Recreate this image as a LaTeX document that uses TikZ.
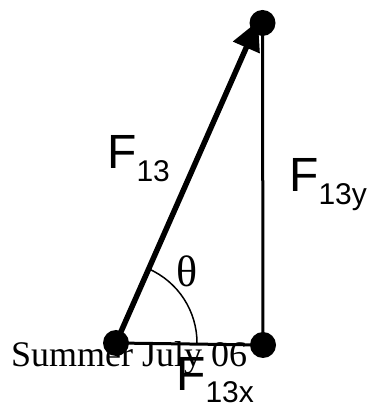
\documentclass[tikz,border=0pt]{standalone}
\usepackage{fontspec}
\setmainfont{Liberation Serif}
\newfontfamily\arialfont{Liberation Sans}
\usetikzlibrary{arrows.meta}
\tikzset{
  dot/.style={circle, fill=black, inner sep=0pt, minimum size=26pt},
  side/.style={line width=3pt},
  force/.style={line width=5.5pt, -{Triangle[length=29pt,width=28pt]}},
  anglearc/.style={line width=1.5pt},
  flabel/.style={anchor=base west, inner sep=0pt, font=\arialfont\fontsize{48}{48}\selectfont},
  serifbig/.style={anchor=base west, inner sep=0pt, font=\fontsize{44}{44}\selectfont},
  serifnote/.style={anchor=base west, inner sep=0pt, font=\fontsize{36}{36}\selectfont}
}
\newcommand{\fsub}[2]{\raisebox{-#1pt}{\fontsize{30}{30}\selectfont #2}}
\begin{document}
\begin{tikzpicture}[x=1pt,y=1pt]
\useasboundingbox (0,0) rectangle (373,406);
\node[dot] (A) at (116,63) {};
\node[dot] (B) at (263,61) {};
\node[dot] (C) at (262.5,383) {};
\coordinate (tip) at (258,385);
\draw[side] (A.center) -- (B.center);
\draw[side] (B.center) -- (C.center);
\draw[force] (A.center) -- (tip);
\draw[anglearc] (A.center) ++(0:81) arc[start angle=0, end angle=66, radius=81];
\node[flabel] (f13) at (107,237) {F\fsub{13}{13}};
\node[flabel] (f13y) at (289,214) {F\fsub{13}{13y}};
\node[serifbig] (theta) at (176,119) {θ};
\node[serifnote] (note) at (11,39) {Summer July 06};
\node[flabel] (f13x) at (176,16) {F\fsub{12}{13x}};
\end{tikzpicture}
\end{document}
